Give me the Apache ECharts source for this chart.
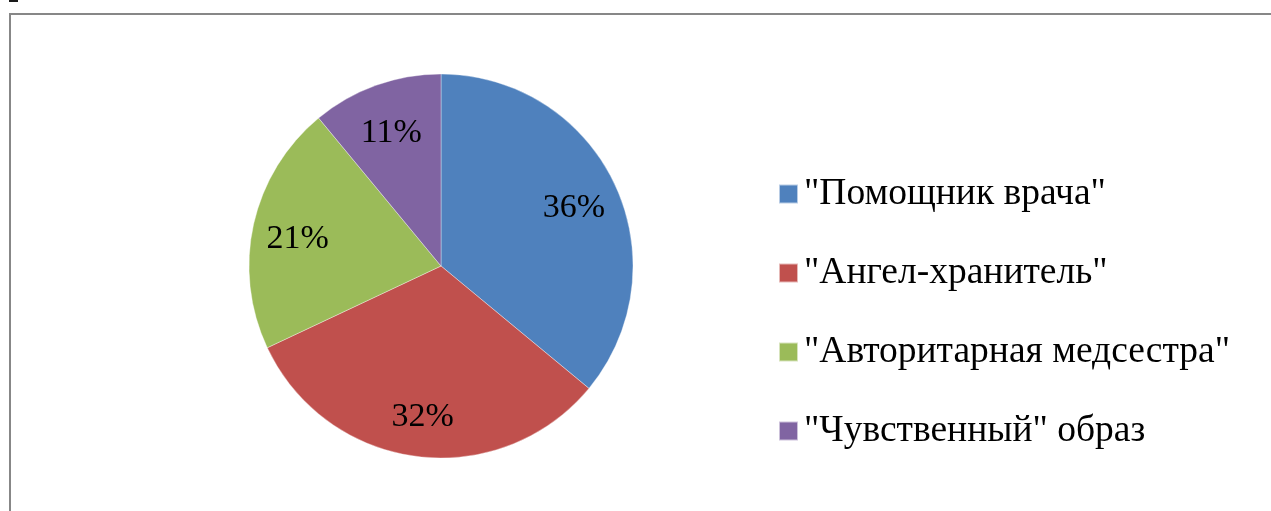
<!DOCTYPE html>
<html>
<head>
<meta charset="utf-8">
<style>
  html, body { margin: 0; padding: 0; background: #ffffff; }
  #chart { width: 1271px; height: 511px; }
</style>
<script src="https://cdn.jsdelivr.net/npm/echarts@6/dist/echarts.min.js"></script>
</head>
<body>
<div id="chart"></div>
<script>
// Образ медсестры: доли ответов
const categories = ['"Помощник врача"', '"Ангел-хранитель"', '"Авторитарная медсестра"', '"Чувственный" образ'];
const shares = [36, 32, 21, 11];
const colors = ['#4F81BD', '#C0504D', '#9BBB59', '#8064A2'];

const serif = 'Liberation Serif';
const pieCenter = [441, 266];
const pieRadius = 192;

const sliceData = categories.map((name, i) => ({
  name: name,
  value: shares[i],
  itemStyle: { color: colors[i] }
}));

// Transparent twin ring that only carries the percentage labels,
// so they sit about three quarters of the way out from the centre.
const labelData = categories.map((name, i) => ({
  name: name,
  value: shares[i],
  itemStyle: { color: 'rgba(0,0,0,0)' }
}));

const chart = echarts.init(document.getElementById('chart'), null, { renderer: 'canvas' });

chart.setOption({
  backgroundColor: '#ffffff',
  animation: false,
  color: colors,
  graphic: [
    {
      type: 'rect',
      shape: { x: 10, y: 14, width: 1400, height: 700 },
      style: { fill: 'none', stroke: '#878787', lineWidth: 2 },
      silent: true
    },
    {
      type: 'rect',
      shape: { x: 9, y: 0, width: 9, height: 2 },
      style: { fill: '#1a1a1a' },
      silent: true
    }
  ],
  legend: {
    orient: 'vertical',
    left: 778,
    top: 174,
    padding: 0,
    icon: 'rect',
    itemWidth: 19,
    itemHeight: 19,
    itemGap: 39,
    selectedMode: false,
    data: categories,
    textStyle: {
      fontFamily: serif,
      fontSize: 37.5,
      color: '#000000',
      lineHeight: 40,
      padding: [0, 0, 0, 1]
    }
  },
  series: [
    {
      type: 'pie',
      center: pieCenter,
      radius: [0, pieRadius],
      startAngle: 90,
      clockwise: true,
      silent: true,
      label: { show: false },
      labelLine: { show: false },
      itemStyle: { borderColor: 'rgba(255,255,255,0.6)', borderWidth: 0.6 },
      data: sliceData
    },
    {
      type: 'pie',
      center: pieCenter,
      radius: [0, pieRadius * 1.5],
      startAngle: 90,
      clockwise: true,
      silent: true,
      legendHoverLink: false,
      label: {
        show: true,
        position: 'inside',
        formatter: '{c}%',
        fontFamily: serif,
        fontSize: 34,
        color: '#000000'
      },
      labelLayout: { dy: 5 },
      labelLine: { show: false },
      data: labelData
    }
  ]
});
</script>
</body>
</html>
